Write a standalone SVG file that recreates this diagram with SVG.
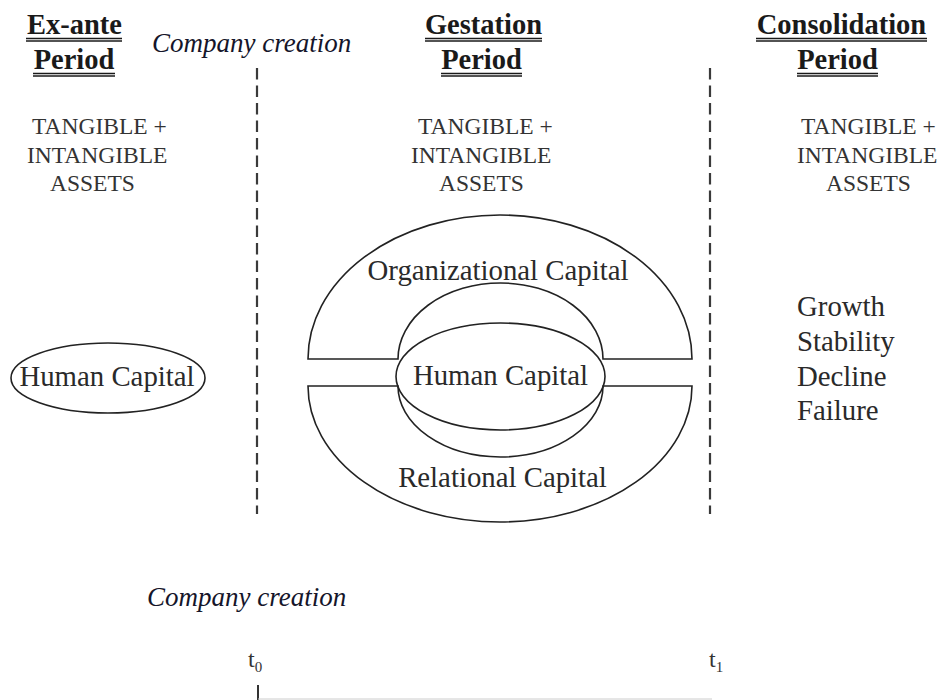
<svg xmlns="http://www.w3.org/2000/svg" width="944" height="700" viewBox="0 0 944 700">
  <style>
    .hdr { font-family: "Liberation Serif", "Times New Roman", serif; font-weight: bold; font-size: 28.5px; fill: #1a1a1a; text-anchor: middle; }
    .ul { stroke: #1a1a1a; stroke-width: 1.3; }
    .assets { font-family: "Liberation Serif", "Times New Roman", serif; font-size: 23.5px; fill: #333; }
    .lbl { font-family: "Liberation Serif", "Times New Roman", serif; font-size: 28.8px; fill: #2a2a2a; }
    .ital { font-family: "Liberation Serif", "Times New Roman", serif; font-style: italic; font-size: 27px; fill: #15152a; }
    .shape { fill: none; stroke: #222; stroke-width: 1.6; }
    .divider { stroke: #3a3a3a; stroke-width: 2.2; stroke-dasharray: 11.5 6; fill: none; }
    .tick { font-family: "Liberation Serif", "Times New Roman", serif; font-size: 24px; fill: #333; }
  </style>

  <!-- period headings -->
  <g id="head-exante">
    <text class="hdr" x="74.5" y="34">Ex-ante</text>
    <line class="ul" x1="26" y1="38.5" x2="122" y2="38.5"/>
    <line class="ul" x1="26" y1="41" x2="122" y2="41"/>
    <text class="hdr" x="74" y="69">Period</text>
    <line class="ul" x1="33" y1="73.5" x2="115" y2="73.5"/>
    <line class="ul" x1="33" y1="76" x2="115" y2="76"/>
  </g>
  <g id="head-gestation">
    <text class="hdr" x="483.5" y="34">Gestation</text>
    <line class="ul" x1="425" y1="38.5" x2="542" y2="38.5"/>
    <line class="ul" x1="425" y1="41" x2="542" y2="41"/>
    <text class="hdr" x="481.5" y="69">Period</text>
    <line class="ul" x1="441" y1="73.5" x2="522" y2="73.5"/>
    <line class="ul" x1="441" y1="76" x2="522" y2="76"/>
  </g>
  <g id="head-consolidation">
    <text class="hdr" x="841.5" y="34">Consolidation</text>
    <line class="ul" x1="756" y1="38.5" x2="927" y2="38.5"/>
    <line class="ul" x1="756" y1="41" x2="927" y2="41"/>
    <text class="hdr" x="837.5" y="69">Period</text>
    <line class="ul" x1="797" y1="73.5" x2="878" y2="73.5"/>
    <line class="ul" x1="797" y1="76" x2="878" y2="76"/>
  </g>

  <text id="creation-top" class="ital" x="152" y="52">Company creation</text>

  <!-- asset captions -->
  <g id="assets-left" class="assets">
    <text x="32" y="134">TANGIBLE +</text>
    <text x="27" y="163">INTANGIBLE</text>
    <text x="50" y="191">ASSETS</text>
  </g>
  <g id="assets-mid" class="assets">
    <text x="418" y="134">TANGIBLE +</text>
    <text x="411" y="163">INTANGIBLE</text>
    <text x="439" y="191">ASSETS</text>
  </g>
  <g id="assets-right" class="assets">
    <text x="801" y="134">TANGIBLE +</text>
    <text x="797" y="163">INTANGIBLE</text>
    <text x="826" y="191">ASSETS</text>
  </g>

  <!-- period boundaries -->
  <g id="connectors">
    <line class="divider" x1="257" y1="68" x2="257" y2="514"/>
    <line class="divider" x1="710" y1="68" x2="710" y2="514"/>
  </g>

  <!-- ex-ante human capital -->
  <g id="hc-left">
    <ellipse class="shape" cx="108" cy="378" rx="97" ry="35"/>
    <text class="lbl" x="107" y="386" text-anchor="middle">Human Capital</text>
  </g>

  <!-- gestation capitals -->
  <g id="org-capital">
    <path class="shape" d="M 308 359 A 192 144 0 0 1 692 359 L 603 359 A 102.5 76 0 0 0 398 359 Z"/>
    <text class="lbl" x="498" y="280" text-anchor="middle">Organizational Capital</text>
  </g>
  <g id="rel-capital">
    <path class="shape" d="M 308 386 L 398 386 A 102.5 71 0 0 0 603 386 L 692 386 A 192 136 0 0 1 308 386 Z"/>
    <text class="lbl" x="502.5" y="487" text-anchor="middle">Relational Capital</text>
  </g>
  <g id="hc-mid">
    <ellipse class="shape" cx="500.5" cy="376.5" rx="104.5" ry="53.5"/>
    <text class="lbl" x="500.5" y="385" text-anchor="middle">Human Capital</text>
  </g>

  <!-- consolidation outcomes -->
  <g id="outcomes" class="lbl">
    <text x="797" y="316">Growth</text>
    <text x="797" y="351">Stability</text>
    <text x="797" y="386">Decline</text>
    <text x="797" y="420">Failure</text>
  </g>

  <!-- time axis -->
  <text id="creation-bottom" class="ital" x="147" y="606">Company creation</text>
  <g id="axis">
    <text class="tick" x="248" y="667">t<tspan font-size="15" dy="5">0</tspan></text>
    <text class="tick" x="709" y="667">t<tspan font-size="15" dy="5">1</tspan></text>
    <line x1="258" y1="685" x2="258" y2="700" stroke="#333" stroke-width="2"/>
    <line x1="258" y1="699" x2="712" y2="699" stroke="#ccc" stroke-width="1"/>
  </g>
</svg>
